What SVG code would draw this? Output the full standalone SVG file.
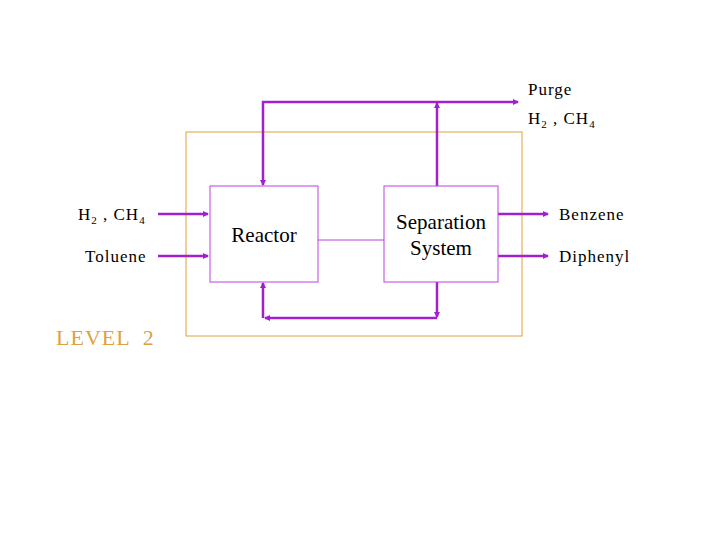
<svg xmlns="http://www.w3.org/2000/svg" width="720" height="540" viewBox="0 0 720 540">
<style>
text{font-family:"Liberation Serif","Times New Roman",serif;fill:#000;white-space:pre}
.s{letter-spacing:1px}
.f{stroke:#a020d0;stroke-width:2.5;fill:none}
.n{fill:#fff;stroke:#c040e0;stroke-width:1}
</style>
<defs><marker id="a" markerWidth="6" markerHeight="6" refX="5" refY="3" orient="auto" markerUnits="userSpaceOnUse"><path d="M0,0L6,3L0,6z" fill="#a020d0"/></marker></defs>
<rect width="720" height="540" fill="#fff"/>
<rect id="boundary" x="186" y="132" width="336" height="204" fill="none" stroke="#e0a040" stroke-width="1"/>
<g id="connectors">
<path class="f" d="M437,186V103" marker-end="url(#a)"/>
<path class="f" d="M437,102H518" marker-end="url(#a)"/>
<path class="f" d="M437,102H263V185" marker-end="url(#a)"/>
<path class="f" d="M437,282V317" marker-end="url(#a)"/>
<path class="f" d="M437,318H265" marker-end="url(#a)"/>
<path class="f" d="M263,318V283" marker-end="url(#a)"/>
<path d="M318,240H384" stroke="#c040e0" stroke-width="1"/>
<path class="f" d="M158,214H208" marker-end="url(#a)"/>
<path class="f" d="M158,256H208" marker-end="url(#a)"/>
<path class="f" d="M498,214H548" marker-end="url(#a)"/>
<path class="f" d="M498,256H548" marker-end="url(#a)"/>
</g>
<g id="reactor"><rect class="n" x="210" y="186" width="108" height="96"/><text x="264" y="242" font-size="21" text-anchor="middle">Reactor</text></g>
<g id="separation"><rect class="n" x="384" y="186" width="114" height="96"/><text x="441" y="229" font-size="21" text-anchor="middle">Separation</text><text x="441" y="255" font-size="21" text-anchor="middle">System</text></g>
<text class="s" x="528" y="95" font-size="17">Purge</text>
<text class="s" x="528" y="124" font-size="17">H<tspan font-size="11" dy="4">2</tspan><tspan dy="-4"> , CH</tspan><tspan font-size="11" dy="4">4</tspan></text>
<text class="s" x="78" y="220" font-size="17">H<tspan font-size="11" dy="4">2</tspan><tspan dy="-4"> , CH</tspan><tspan font-size="11" dy="4">4</tspan></text>
<text class="s" x="85" y="262" font-size="17">Toluene</text>
<text class="s" x="559" y="220" font-size="17">Benzene</text>
<text class="s" x="559" y="262" font-size="17">Diphenyl</text>
<text class="s" x="56" y="345" font-size="22" style="fill:#e0a040">LEVEL  2</text>
</svg>
